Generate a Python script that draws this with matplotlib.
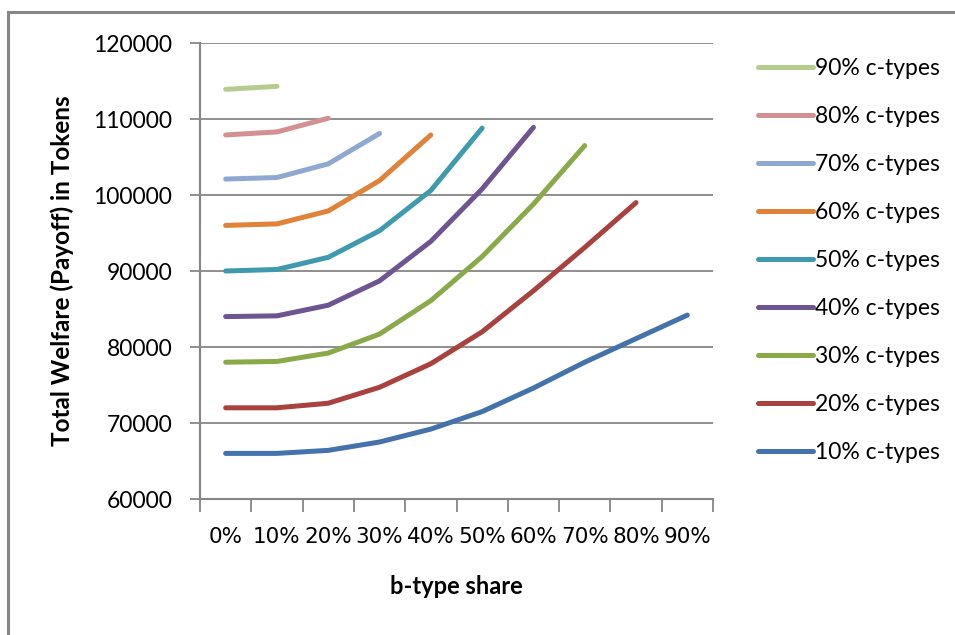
import matplotlib
matplotlib.use("Agg")
import matplotlib.pyplot as plt
from matplotlib.patches import Rectangle
from matplotlib.ticker import FixedLocator, NullFormatter

plt.rcParams['font.family'] = ['Lato', 'DejaVu Sans']

shares = ['0%', '10%', '20%', '30%', '40%', '50%', '60%', '70%', '80%', '90%']

c10 = [66000, 66000, 66400, 67500, 69200, 71500, 74600, 78000, 81100, 84200]
c20 = [72000, 72000, 72600, 74700, 77800, 82000, 87400, 93100, 99000]
c30 = [78000, 78100, 79200, 81700, 86100, 91900, 98800, 106500]
c40 = [84000, 84100, 85500, 88700, 93900, 100800, 108900]
c50 = [90000, 90200, 91800, 95300, 100600, 108800]
c60 = [96000, 96200, 97900, 101900, 107900]
c70 = [102100, 102300, 104100, 108100]
c80 = [107900, 108300, 110100]
c90 = [113900, 114300]

series = [c10, c20, c30, c40, c50, c60, c70, c80, c90]
labels = ['10% c-types', '20% c-types', '30% c-types', '40% c-types', '50% c-types',
          '60% c-types', '70% c-types', '80% c-types', '90% c-types']
colors = ['#4472AA', '#A9413F', '#8AAA4A', '#6E5490', '#3F9AB0',
          '#E08238', '#8FA8D2', '#D49090', '#B6CC8F']

W, H = 955, 635
fig = plt.figure(figsize=(W / 100, H / 100), dpi=100)
ax = fig.add_axes([200 / W, 1 - 499 / H, 513 / W, 456 / H])

grid_c = '#868686'
handles = []
for vals, lab, col in zip(series, labels, colors):
    h, = ax.plot(range(len(vals)), vals, color=col, lw=3.6, label=lab,
                 solid_capstyle='round', solid_joinstyle='round', zorder=3)
    handles.append(h)

ax.set_xlim(-0.5, 9.5)
ax.set_ylim(60000, 120000)
ax.set_yticks(range(60000, 120001, 10000))
ax.yaxis.grid(True, color=grid_c, lw=1.3)
ax.set_axisbelow(True)

ax.set_xticks(range(len(shares)))
ax.set_xticklabels(shares, fontsize=15.5, family=['Liberation Sans Narrow', 'DejaVu Sans'])
ax.xaxis.set_minor_locator(FixedLocator([i - 0.5 for i in range(11)]))
ax.xaxis.set_minor_formatter(NullFormatter())
ax.tick_params(axis='x', which='major', length=0, pad=20)
ax.tick_params(axis='x', which='minor', length=9, width=1.3, color=grid_c, direction='out')
ax.tick_params(axis='y', length=7, width=1.3, color=grid_c, labelsize=16.5, pad=13)

for s in ['top', 'right']:
    ax.spines[s].set_visible(False)
for s in ['left', 'bottom']:
    ax.spines[s].set_color(grid_c)
    ax.spines[s].set_linewidth(1.5)

ax.set_xlabel('b-type share', fontsize=17, fontweight='bold', labelpad=20)
ax.set_ylabel('Total Welfare (Payoff) in Tokens', fontsize=17.5, fontweight='bold', labelpad=14)

fig.legend(handles[::-1], labels[::-1], loc='upper left',
           bbox_to_anchor=(737 / W, 1 - 37 / H), frameon=False, fontsize=16.5,
           handlelength=2.4, labelspacing=1.18, handletextpad=0.12)

fig.patches.append(Rectangle((8 / W, -0.1), 1.2, 1 - 12 / H + 0.1, transform=fig.transFigure,
                             fill=False, edgecolor=grid_c, lw=2.2))

fig.savefig('out.png', dpi=100)
